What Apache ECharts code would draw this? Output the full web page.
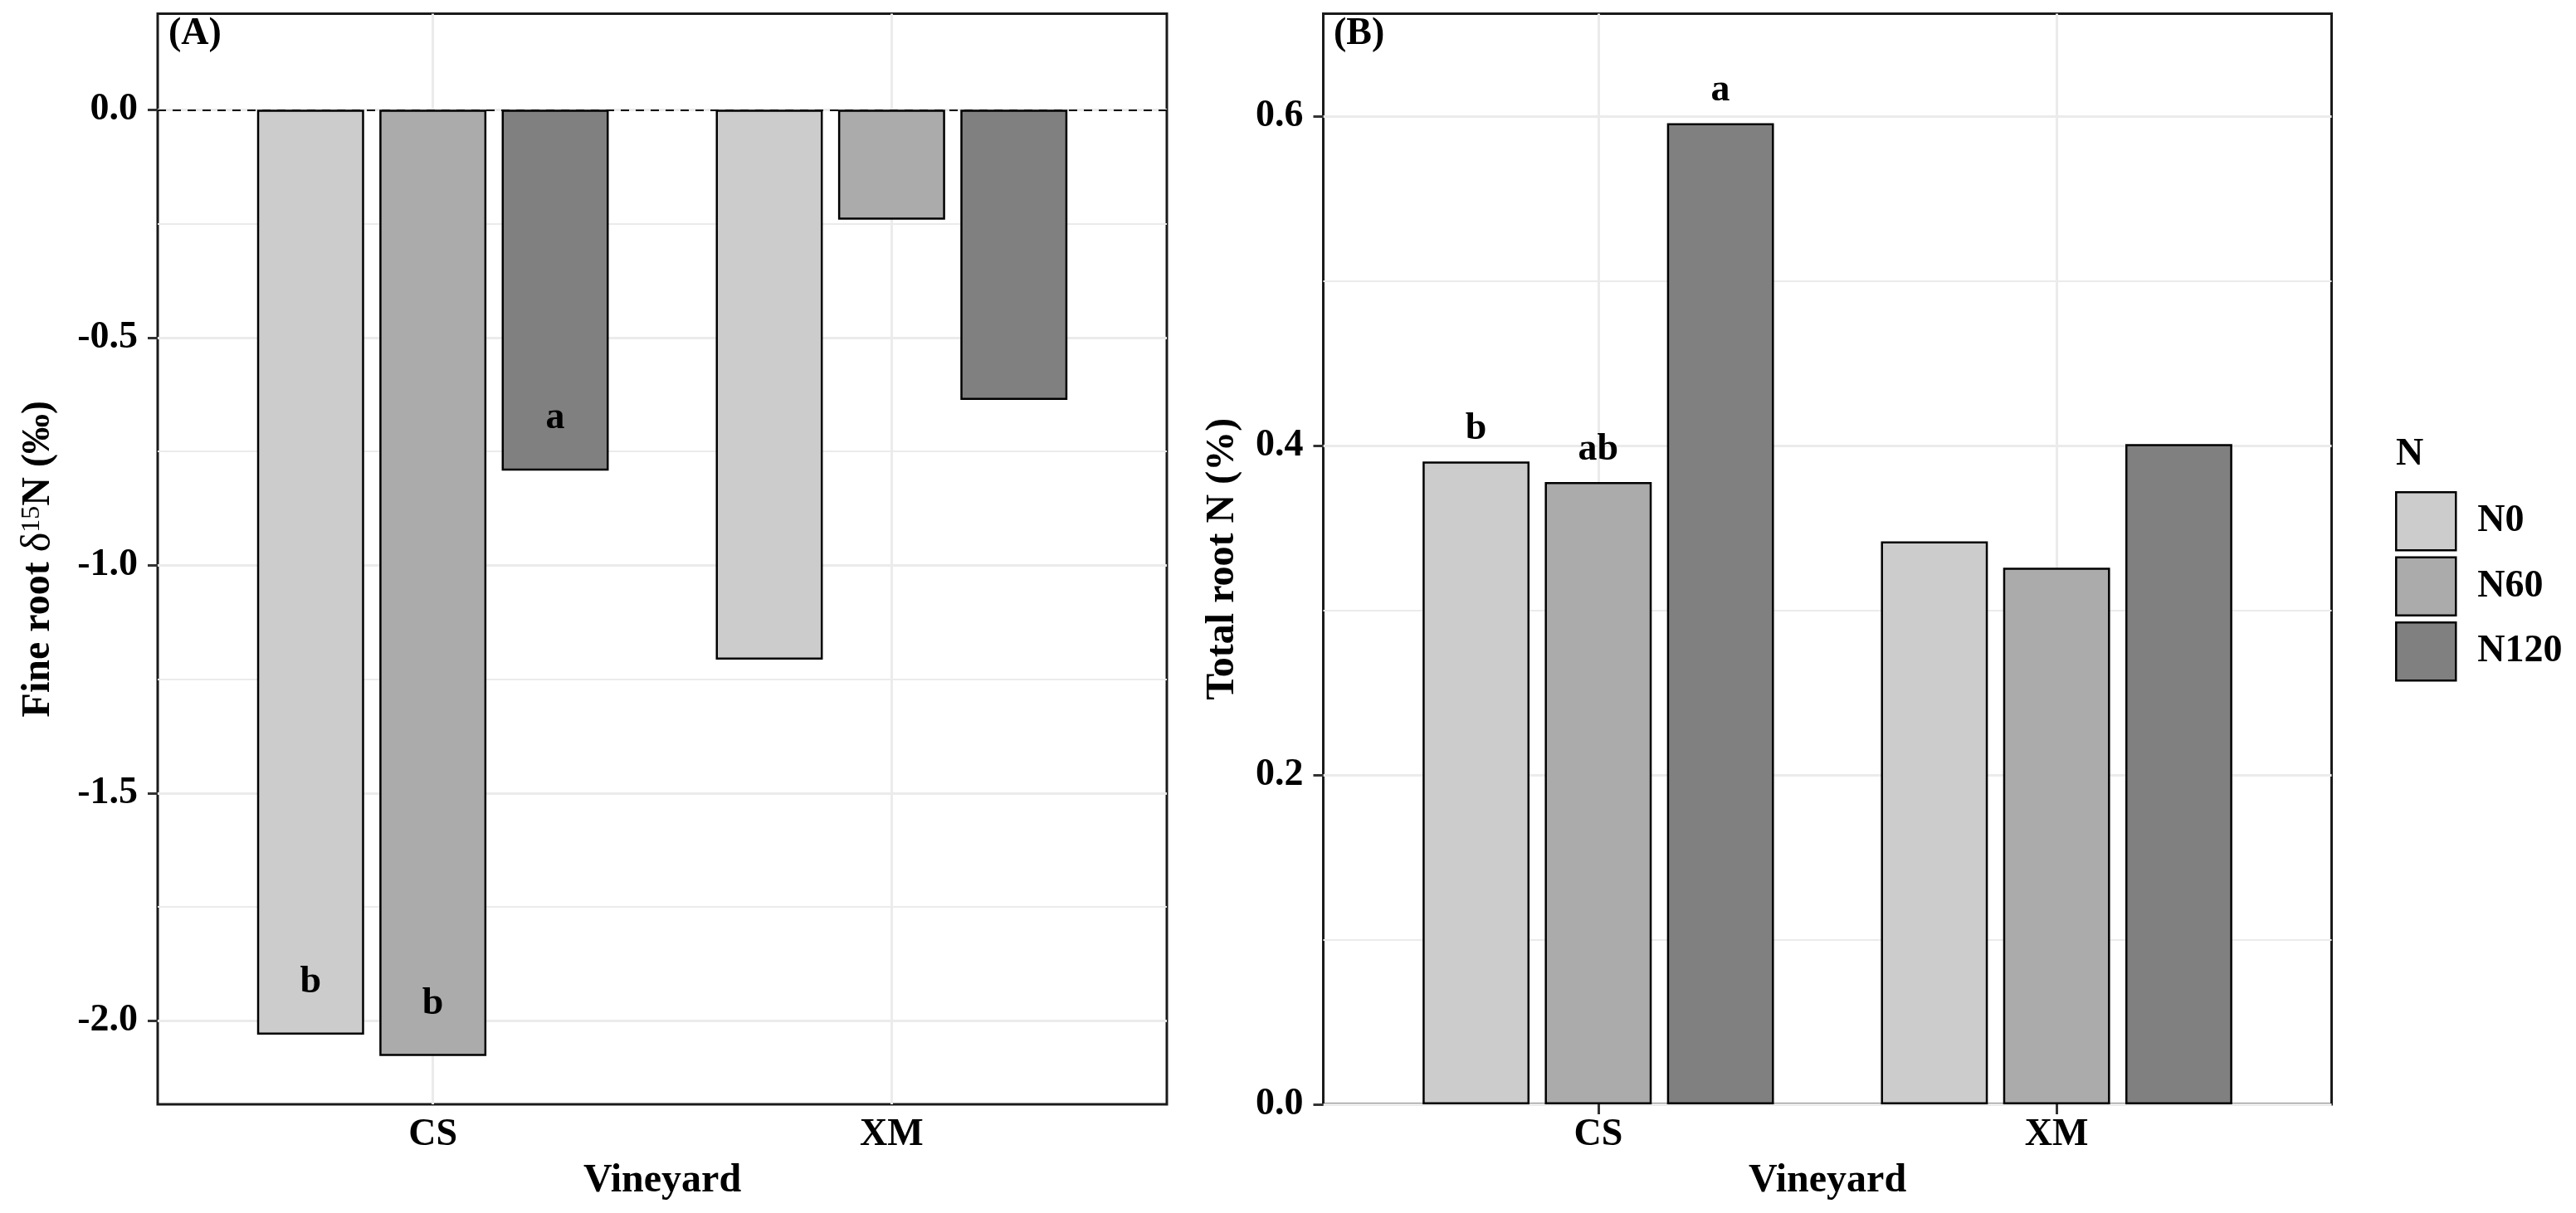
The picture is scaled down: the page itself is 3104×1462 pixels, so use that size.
<!DOCTYPE html>
<html>
<head>
<meta charset="utf-8">
<title>Fine root δ15N and total root N</title>
<script src="https://cdn.jsdelivr.net/npm/echarts@6.0.0/dist/echarts.min.js"></script>
<style>
  html, body { margin: 0; padding: 0; background: #fff; }
  #main { width: 3104px; height: 1462px; }
</style>
</head>
<body>
<div id="main"></div>
<script>
// categories
const vineyards = ['CS', 'XM'];
const treatments = ['N0', 'N60', 'N120'];

// (A) fine root δ15N (‰), one array per treatment, ordered CS, XM
const d15N_N0 = [-2.030, -1.207];
const d15N_N60 = [-2.077, -0.241];
const d15N_N120 = [-0.792, -0.637];
const letters15N_N0 = ['b', ''];
const letters15N_N60 = ['b', ''];
const letters15N_N120 = ['a', ''];

// (B) total root N (%)
const rootN_N0 = [0.3905, 0.342];
const rootN_N60 = [0.378, 0.326];
const rootN_N120 = [0.596, 0.401];
const lettersN_N0 = ['b', ''];
const lettersN_N60 = ['ab', ''];
const lettersN_N120 = ['a', ''];

// axis ranges and tick labels
const xRange = [0.4, 2.6];
const xTicks = [1, 2];
const yRangeA = [-2.183, 0.211];
const yTicksA = [-2, -1.5, -1, -0.5, 0];
const yRangeB = [0, 0.6625];
const yTicksB = [0, 0.2, 0.4, 0.6];

const fills = ['#CCCCCC', '#ABABAB', '#808080'];
const FONT = 'Liberation Serif';

const valsA = [d15N_N0, d15N_N60, d15N_N120];
const lettersA = [letters15N_N0, letters15N_N60, letters15N_N120];
const valsB = [rootN_N0, rootN_N60, rootN_N120];
const lettersB = [lettersN_N0, lettersN_N60, lettersN_N120];

const gridLine = { color: '#EBEBEB', width: 3 };
const minorLine = { color: '#EBEBEB', width: 2 };
const tickStyle = { length: 12, lineStyle: { color: '#333', width: 3 } };
const labelFont = { fontFamily: FONT, fontSize: 46, fontWeight: 'bold', color: '#000' };
const titleFont = { fontFamily: FONT, fontSize: 48, fontWeight: 'bold', color: '#000' };

function xAxis(idx) {
    return {
        type: 'value',
        gridIndex: idx,
        min: xRange[0],
        max: xRange[1],
        splitNumber: 2,
        axisLine: { show: false },
        axisTick: Object.assign({ show: true, customValues: xTicks }, tickStyle),
        axisLabel: Object.assign({
            customValues: xTicks,
            margin: 14,
            formatter: v => vineyards[Math.round(v) - 1] || ''
        }, labelFont),
        splitLine: { show: true, lineStyle: gridLine },
        name: 'Vineyard',
        nameLocation: 'middle',
        nameGap: 69,
        nameTextStyle: titleFont
    };
}

function yAxis(idx, range, ticks, name, gap, rich) {
    return {
        type: 'value',
        gridIndex: idx,
        min: range[0],
        max: range[1],
        splitNumber: idx === 0 ? 5 : 3,
        axisLine: { show: false },
        axisTick: Object.assign({ show: true, customValues: ticks }, tickStyle),
        axisLabel: Object.assign({
            customValues: ticks,
            margin: 24,
            formatter: v => v.toFixed(1)
        }, labelFont),
        splitLine: { show: true, lineStyle: gridLine },
        minorTick: { show: false, splitNumber: 2 },
        minorSplitLine: { show: true, lineStyle: minorLine },
        name: name,
        nameLocation: 'middle',
        nameRotate: 90,
        nameGap: gap,
        nameTextStyle: Object.assign({ rich: rich || {} }, titleFont)
    };
}

const series = [];
treatments.forEach(function (t, k) {
    series.push({
        type: 'bar',
        name: t,
        xAxisIndex: 0,
        yAxisIndex: 0,
        barWidth: '23.33%',
        barGap: '14.29%',
        data: vineyards.map((v, i) => [i + 1, valsA[k][i]]),
        itemStyle: { color: fills[k], borderColor: '#000', borderWidth: 2.5 },
        label: Object.assign({
            show: true,
            position: 'insideBottom',
            distance: 40,
            formatter: p => lettersA[k][p.dataIndex]
        }, labelFont),
        markLine: k === 0 ? {
            silent: true,
            symbol: ['none', 'none'],
            label: { show: false },
            lineStyle: { type: [10, 8], color: '#000', width: 2 },
            data: [{ yAxis: 0 }]
        } : undefined
    });
    series.push({
        type: 'bar',
        name: t,
        xAxisIndex: 1,
        yAxisIndex: 1,
        barWidth: '23.33%',
        barGap: '14.29%',
        data: vineyards.map((v, i) => [i + 1, valsB[k][i]]),
        itemStyle: { color: fills[k], borderColor: '#000', borderWidth: 2.5 },
        label: Object.assign({
            show: true,
            position: 'top',
            distance: 16,
            formatter: p => lettersB[k][p.dataIndex]
        }, labelFont)
    });
});

const chart = echarts.init(document.getElementById('main'));
chart.setOption({
    animation: false,
    backgroundColor: '#fff',
    textStyle: { fontFamily: FONT },
    title: [
        { text: '(A)', left: 203, top: 18, padding: 0, textStyle: labelFont },
        { text: '(B)', left: 1607, top: 18, padding: 0, textStyle: labelFont },
        { text: 'N', left: 2887, top: 525, padding: 0, textStyle: labelFont }
    ],
    legend: {
        orient: 'vertical',
        left: 2886,
        top: 592,
        padding: 0,
        itemWidth: 72,
        itemHeight: 70,
        itemGap: 6,
        icon: 'rect',
        data: treatments,
        selectedMode: false,
        itemStyle: { borderColor: '#000', borderWidth: 2.5 },
        textStyle: Object.assign({ padding: [0, 0, 0, 21] }, labelFont)
    },
    grid: [
        { left: 190, top: 16.5, width: 1216, height: 1314.5, show: true,
          borderColor: '#1a1a1a', borderWidth: 3, backgroundColor: 'transparent', outerBoundsMode: 'none' },
        { left: 1594.5, top: 16.5, width: 1215, height: 1314.5, show: true,
          borderColor: '#1a1a1a', borderWidth: 3, backgroundColor: 'transparent', outerBoundsMode: 'none' }
    ],
    xAxis: [xAxis(0), xAxis(1)],
    yAxis: [
        yAxis(0, yRangeA, yTicksA, '{t|Fine root }{g|δ}{s|15}{t|N (‰)}', 119, {
            t: { fontFamily: FONT, fontSize: 48, fontWeight: 'bold', lineHeight: 48 },
            g: { fontFamily: FONT, fontSize: 50, fontWeight: 'normal', lineHeight: 48 },
            s: { fontFamily: FONT, fontSize: 32, fontWeight: 'normal', lineHeight: 34, verticalAlign: 'top' }
        }),
        yAxis(1, yRangeB, yTicksB, 'Total root N (%)', 97)
    ],
    series: series
});
</script>
</body>
</html>
